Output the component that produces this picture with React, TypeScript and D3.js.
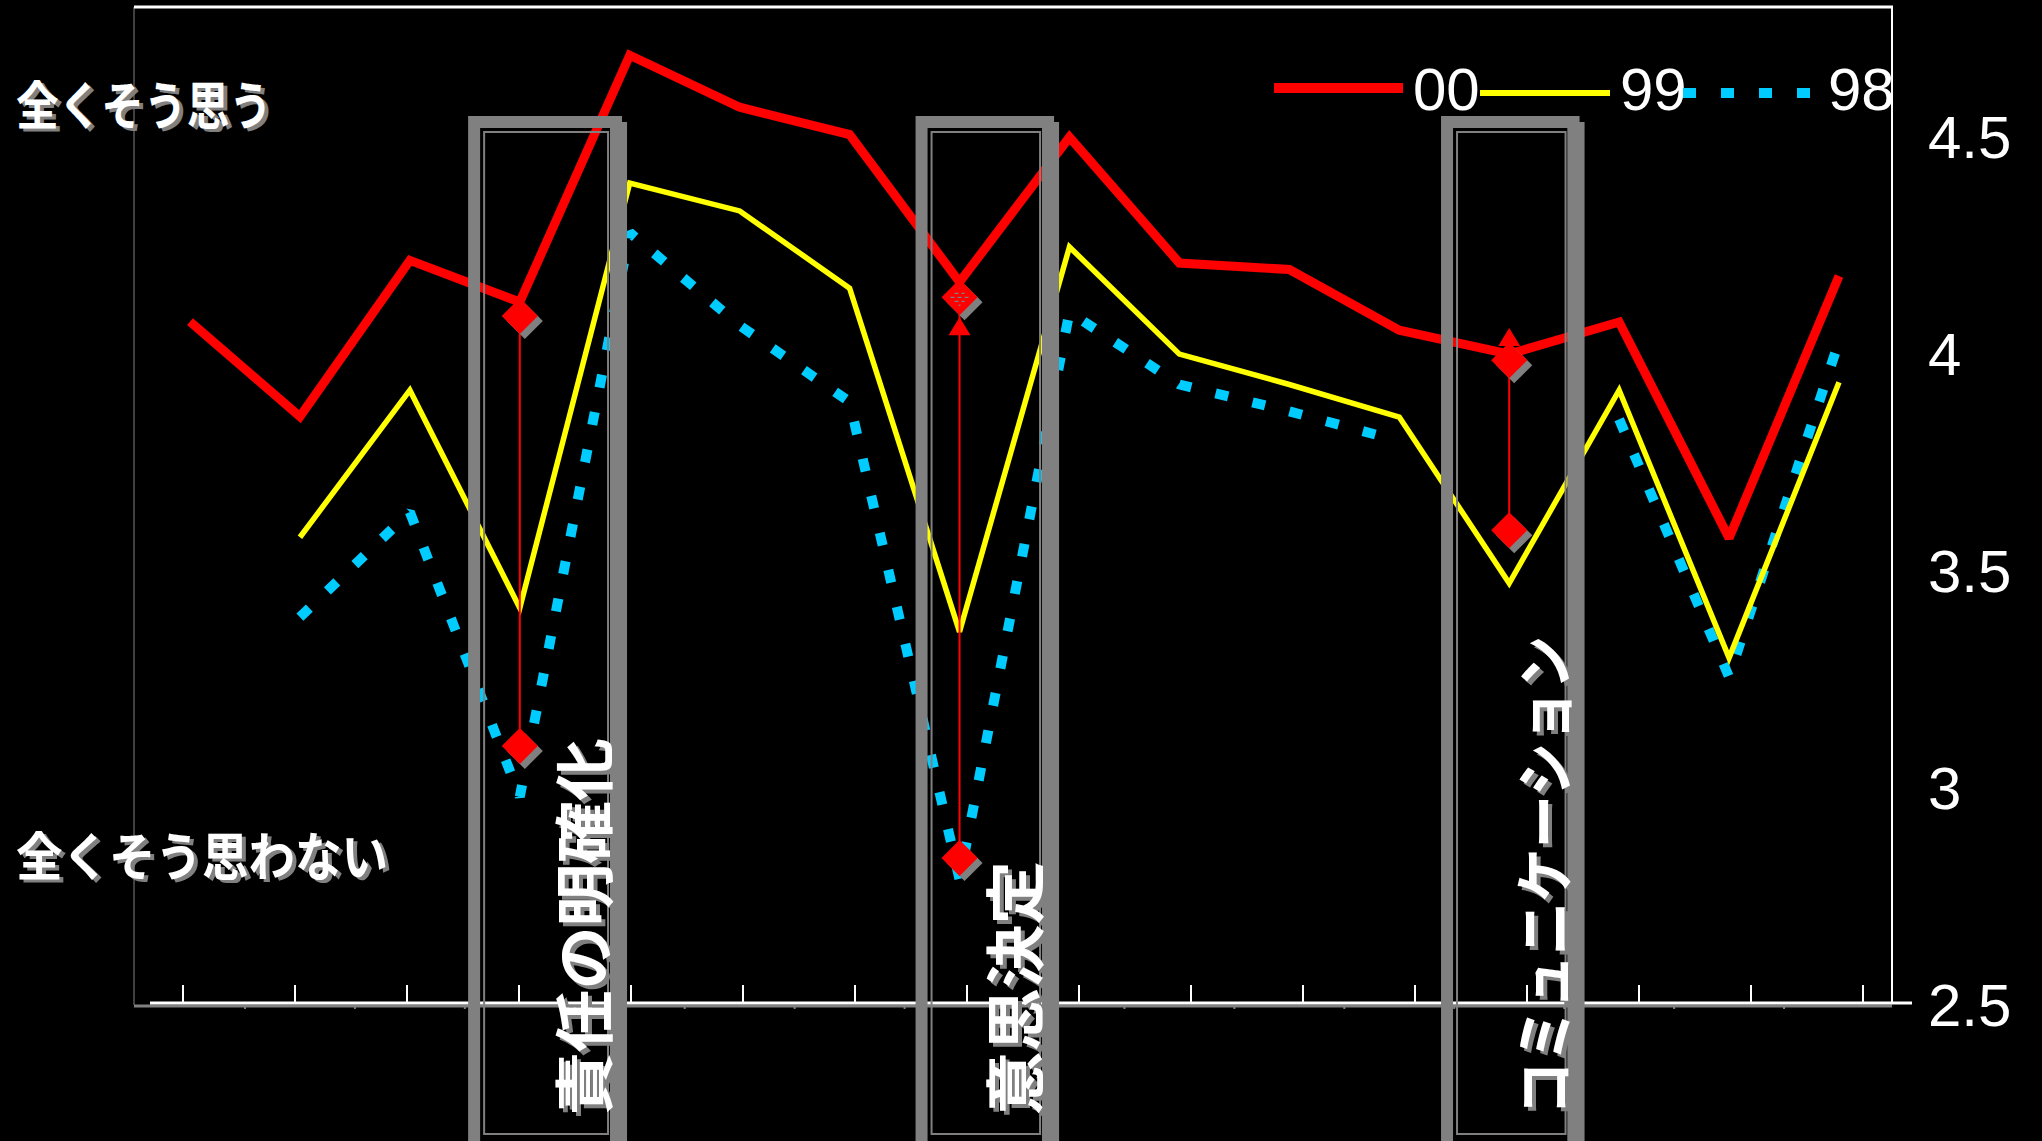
import React from 'react';
import * as d3 from 'd3';

// ---------- data ----------
const categories = ['1', '2', '3', '4', '5', '6', '7', '8', '9', '10', '11', '12', '13', '14', '15', '16'];
const series00: (number | null)[] = [4.075, 3.856, 4.216, 4.12, 4.689, 4.569, 4.506, 4.166, 4.5, 4.21, 4.195, 4.055, 4.0, 4.074, 3.576, 4.18];
const series99: (number | null)[] = [null, 3.578, 3.917, 3.415, 4.394, 4.33, 4.152, 3.36, 4.247, 4.0, 3.93, 3.855, 3.472, 3.917, 3.3, 3.935];
const series98: (number | null)[] = [null, 3.394, 3.636, 2.98, 4.28, 4.066, 3.89, 2.79, 4.097, 3.93, 3.868, 3.8, null, 3.85, 3.256, 4.03];
const seriesNames = ['00', '99', '98'];
const yTicks = [2.5, 3, 3.5, 4, 4.5];
const sideLabels = ['全くそう思う', '全くそう思わない'];
const sideLabelValues = [4.58, 2.85];
const boxLabels = ['責任の明確化', '意思決定', 'コミュニケーション'];
const highlightIndex = [3, 7, 12];
const markerTop = [4.088, 4.131, 3.986];
const markerBottom = [3.097, 2.839, 3.594];
const arrowTip: (number | null)[] = [null, 4.085, 4.06];

// ---------- layout ----------
const W = 2042;
const H = 1141;
const plotLeft = 134;
const plotRight = 1892;
const plotTop = 7;
const plotBottom = 1005;
const boxStart = [2.53, 6.6, 11.38];
const boxEnd = [3.93, 7.86, 12.64];
const boxTopY = 116;
const boxLabelLen = [377, 254, 479];
const boxLabelX = [580, 1011, 1540];
const boxLabelY = 1115;
const sideLabelLen = [256, 372];

const RED = '#FF0000';
const YELLOW = '#FFFF00';
const CYAN = '#00CCFF';
const GRAY = '#808080';
const JP = '"Noto Sans CJK JP", "Noto Sans CJK SC", sans-serif';
const LAT = '"Liberation Sans", Arial, sans-serif';

export default function App() {
  const x = d3.scalePoint<string>().domain(categories).range([190, 1839]);
  const xi = d3.scaleLinear().domain([0, categories.length - 1]).range([190, 1839]);
  const xBand = d3.scaleBand<string>().domain(categories).range([127, 1919]);
  const y = d3.scaleLinear().domain([2.5, 4.8]).range([plotBottom, plotTop]);

  const line = d3
    .line<number | null>()
    .defined((d) => d != null)
    .x((_, i) => x(categories[i]) as number)
    .y((d) => y(d as number));

  const diamond = d3.symbol(d3.symbolSquare, 650)();

  const shadowText = (
    key: string,
    txt: string,
    props: any,
    transform: string,
    dx = 4,
    dy = 4
  ) => (
    <g key={key}>
      <text {...props} transform={`translate(${dx},${dy}) ${transform}`} fill={GRAY}>
        {txt}
      </text>
      <text {...props} transform={transform} fill="#FFFFFF">
        {txt}
      </text>
    </g>
  );

  return (
    <svg
      width={W}
      height={H}
      style={{ position: 'fixed', left: 0, top: 0, background: '#000' }}
    >
      <rect x={0} y={0} width={W} height={H} fill="#000" />

      {/* frame */}
      <line x1={plotLeft} x2={plotLeft} y1={plotTop} y2={plotBottom} stroke={GRAY} strokeWidth={1} />
      <line x1={plotLeft} x2={plotRight + 1} y1={plotTop} y2={plotTop} stroke="#fff" strokeWidth={3} />
      <line x1={plotRight} x2={plotRight} y1={plotTop} y2={plotBottom - 2} stroke="#fff" strokeWidth={2} />

      {/* x axis */}
      <line x1={plotLeft} x2={plotRight} y1={plotBottom + 1} y2={plotBottom + 1} stroke={GRAY} strokeWidth={3} />
      <line x1={150} x2={plotRight + 20} y1={plotBottom - 2} y2={plotBottom - 2} stroke="#fff" strokeWidth={3} />
      {categories.map((c) => (
        <line
          key={'ut' + c}
          x1={(xBand(c) as number) + xBand.bandwidth() / 2}
          x2={(xBand(c) as number) + xBand.bandwidth() / 2}
          y1={plotBottom - 20}
          y2={plotBottom - 2}
          stroke="#fff"
          strokeWidth={2}
        />
      ))}
      {categories.slice(0, -1).map((c, i) => (
        <line
          key={'dt' + c}
          x1={(xi(i) + xi(i + 1)) / 2}
          x2={(xi(i) + xi(i + 1)) / 2}
          y1={plotBottom}
          y2={plotBottom + 4}
          stroke={GRAY}
          strokeWidth={2}
        />
      ))}

      {/* y tick labels (right) */}
      {yTicks.map((t) => (
        <text
          key={'yt' + t}
          x={1928}
          y={y(t) + 21}
          fill="#fff"
          fontFamily={LAT}
          fontSize={60}
        >
          {String(t)}
        </text>
      ))}

      {/* series lines */}
      <path d={line(series98) || ''} fill="none" stroke={CYAN} strokeWidth={10} strokeDasharray="13 25" strokeLinejoin="bevel" />
      <path d={line(series99) || ''} fill="none" stroke={YELLOW} strokeWidth={5.5} strokeLinejoin="miter" strokeMiterlimit={3} />
      <path d={line(series00) || ''} fill="none" stroke={RED} strokeWidth={9} strokeLinejoin="miter" strokeMiterlimit={2} />

      {/* legend */}
      <line x1={1274} x2={1403} y1={88} y2={88} stroke={RED} strokeWidth={10} />
      <text x={1413} y={110} fill="#fff" fontFamily={LAT} fontSize={60}>{seriesNames[0]}</text>
      <line x1={1480} x2={1610} y1={93} y2={93} stroke={YELLOW} strokeWidth={6} />
      <text x={1620} y={110} fill="#fff" fontFamily={LAT} fontSize={60}>{seriesNames[1]}</text>
      <line x1={1683} x2={1812} y1={93} y2={93} stroke={CYAN} strokeWidth={10} strokeDasharray="13 25" />
      <text x={1828} y={110} fill="#fff" fontFamily={LAT} fontSize={60}>{seriesNames[2]}</text>

      {/* highlight boxes */}
      {boxStart.map((b, k) => {
        const x0 = xi(b);
        const x1 = xi(boxEnd[k]);
        return (
          <g key={'box' + k}>
            <rect x={x1 - 12} y={boxTopY + 6} width={17} height={H} fill={GRAY} />
            <rect x={x0 + 6} y={boxTopY + 6} width={x1 - x0 - 12} height={1146 - boxTopY} fill="none" stroke={GRAY} strokeWidth={12} />
            <rect x={x0 + 16} y={boxTopY + 16} width={x1 - x0 - 30} height={1134 - boxTopY - 16} fill="none" stroke={GRAY} strokeWidth={2} />
          </g>
        );
      })}

      {/* range markers */}
      {highlightIndex.map((idx, k) => {
        const cx = x(categories[idx]) as number;
        const tip = arrowTip[k];
        return (
          <g key={'mk' + k}>
            <line x1={cx} x2={cx} y1={y(markerTop[k])} y2={y(markerBottom[k])} stroke={RED} strokeWidth={2} />
            {tip != null && (
              <path
                d={`M${cx},${y(tip)} L${cx - 11},${y(tip) + 18} L${cx + 11},${y(tip) + 18} Z`}
                fill={RED}
              />
            )}
            {[markerTop[k], markerBottom[k]].map((v, j) => (
              <g key={j}>
                <path d={diamond as string} transform={`translate(${cx + 5},${y(v) + 5}) rotate(45)`} fill={GRAY} />
                <path d={diamond as string} transform={`translate(${cx},${y(v)}) rotate(45)`} fill={RED} />
              </g>
            ))}
            {k === 1 && (
              <g stroke={GRAY} strokeWidth={1.2} strokeDasharray="4 3">
                {[-9, -4, 0, 4, 8].map((o) => (
                  <line key={o} x1={cx - 9 + Math.abs(o)} x2={cx + 9 - Math.abs(o)} y1={y(markerTop[k]) + o} y2={y(markerTop[k]) + o} />
                ))}
              </g>
            )}
          </g>
        );
      })}

      {/* side labels */}
      {sideLabels.map((s, k) =>
        shadowText(
          'sl' + k,
          s,
          {
            x: 16,
            y: y(sideLabelValues[k]),
            fontFamily: JP,
            fontWeight: 700,
            fontSize: 52,
            dominantBaseline: 'central',
            textLength: sideLabelLen[k],
            lengthAdjust: 'spacingAndGlyphs',
          },
          '',
          4,
          3
        )
      )}

      {/* box labels (rotated) */}
      {boxLabels.map((s, k) =>
        shadowText(
          'bl' + k,
          s,
          {
            x: 0,
            y: 0,
            fontFamily: JP,
            fontWeight: 700,
            fontSize: 60,
            dominantBaseline: 'central',
            textLength: boxLabelLen[k],
            lengthAdjust: 'spacingAndGlyphs',
          },
          `translate(${boxLabelX[k]},${boxLabelY}) rotate(-90)`,
          4,
          4
        )
      )}
    </svg>
  );
}
